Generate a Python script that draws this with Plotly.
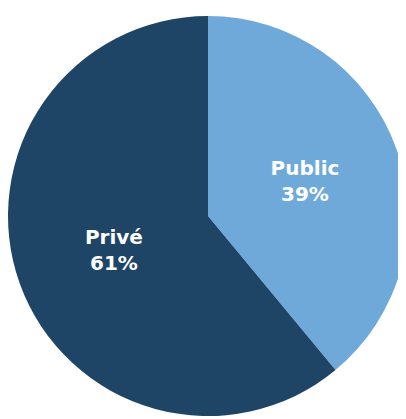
import plotly.graph_objects as go

labels = ["Public", "Privé"]
values = [39, 61]
colors = ["#6EA9DA", "#1E4566"]

fig = go.Figure(go.Pie(
    labels=labels,
    values=values,
    sort=False,
    direction="clockwise",
    rotation=0,
    marker=dict(colors=colors, line=dict(width=0)),
    texttemplate="<b>%{label}</b><br><b>%{percent:.0%}</b>",
    textposition="inside",
    insidetextorientation="horizontal",
    textfont=dict(family="DejaVu Sans", size=20, color="white"),
    hoverinfo="none",
    showlegend=False,
    domain=dict(x=[0, 400/406], y=[9/419, 413/419]),
))
fig.update_layout(
    width=406, height=419,
    margin=dict(l=0, r=0, t=0, b=0),
    paper_bgcolor="white",
    plot_bgcolor="white",
)
fig.write_html("out.html")
